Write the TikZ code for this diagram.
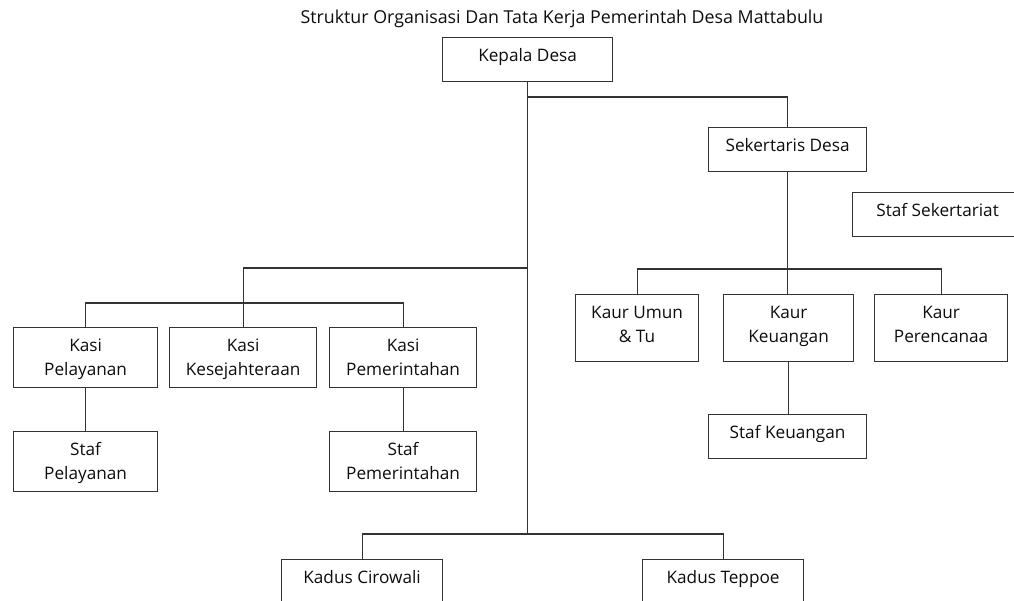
\documentclass[tikz,border=0pt]{standalone}
\usepackage{fontspec}
\setmainfont{Open Sans}
\usetikzlibrary{positioning}

\tikzset{
  unit/.style={draw=black!80, line width=1.2pt, inner xsep=0pt, inner ysep=0pt,
    anchor=north west, align=center, text=black!95,
    font=\fontsize{17.2}{24}\selectfont},
  oneline/.style={unit, text height=24pt, text depth=20pt},
  twoline/.style={unit, text height=48pt, text depth=12pt},
  link/.style={draw=black!80, line width=1.2pt},
}

\begin{document}
\begin{tikzpicture}[x=1pt, y=-1pt]
    \clip (0,0) rectangle (1014,601);

    % judul
    \node[text=black!95, font=\fontsize{17.8}{20}\selectfont] (title) at (562,19)
        {Struktur Organisasi Dan Tata Kerja Pemerintah Desa Mattabulu};

    % pimpinan
    \node[oneline, minimum width=170pt] (kepala) at (442,37) {Kepala Desa};
    \node[oneline, minimum width=158pt] (sekdes) at (708,127) {Sekertaris Desa};
    \node[oneline, minimum width=170pt] (stafsek) at (852,192) {Staf Sekertariat};

    % kasi
    \node[twoline, minimum width=144pt] (kasipel) at (13,327) {Kasi\\Pelayanan};
    \node[twoline, minimum width=147pt] (kasikes) at (169,327) {Kasi\\Kesejahteraan};
    \node[twoline, minimum width=147pt] (kasipem) at (329,327) {Kasi\\Pemerintahan};
    \node[twoline, minimum width=144pt] (stafpel) at (13,431) {Staf\\Pelayanan};
    \node[twoline, minimum width=147pt] (stafpem) at (329,431) {Staf\\Pemerintahan};

    % kaur
    \node[twoline, minimum width=123pt, text depth=19pt] (kaurumum) at (575,294) {Kaur Umun\\\& Tu};
    \node[twoline, minimum width=130pt, text depth=19pt] (kaurkeu) at (723,294) {Kaur\\Keuangan};
    \node[twoline, minimum width=133pt, text depth=19pt] (kaurper) at (874,294) {Kaur\\Perencanaa};
    \node[oneline, minimum width=158pt] (stafkeu) at (708,414) {Staf Keuangan};

    % kadus
    \node[oneline, minimum width=161pt, text depth=40pt] (cirowali) at (281,559) {Kadus Cirowali};
    \node[oneline, minimum width=161pt, text depth=40pt] (teppoe) at (642,559) {Kadus Teppoe};

    % titik cabang
    \coordinate (jsek) at (kepala.south |- 0,97);
    \coordinate (jkasi) at (kepala.south |- 0,268);
    \coordinate (jkadus) at (kepala.south |- 0,534);
    \coordinate (jkasi2) at (kasikes.north |- 0,303);
    \coordinate (jkaur) at (sekdes.south |- 0,269);

    % garis
    \draw[link] (kepala.south) -- (jkadus);
    \draw[link] (jsek) -| (sekdes.north);
    \draw[link] (jkasi) -| (kasikes.north);
    \draw[link] (kasipel.north) |- (jkasi2) -| (kasipem.north);
    \draw[link] (kasipel) -- (stafpel);
    \draw[link] (kasipem) -- (stafpem);
    \draw[link] (sekdes.south) -- (jkaur);
    \draw[link] (kaurumum.north) |- (jkaur) -| (kaurper.north);
    \draw[link] (jkaur) -- (jkaur |- kaurkeu.north);
    \draw[link] (kaurkeu.south) -- (kaurkeu.south |- stafkeu.north);
    \draw[link] (cirowali.north) |- (jkadus) -| (teppoe.north);
\end{tikzpicture}
\end{document}
